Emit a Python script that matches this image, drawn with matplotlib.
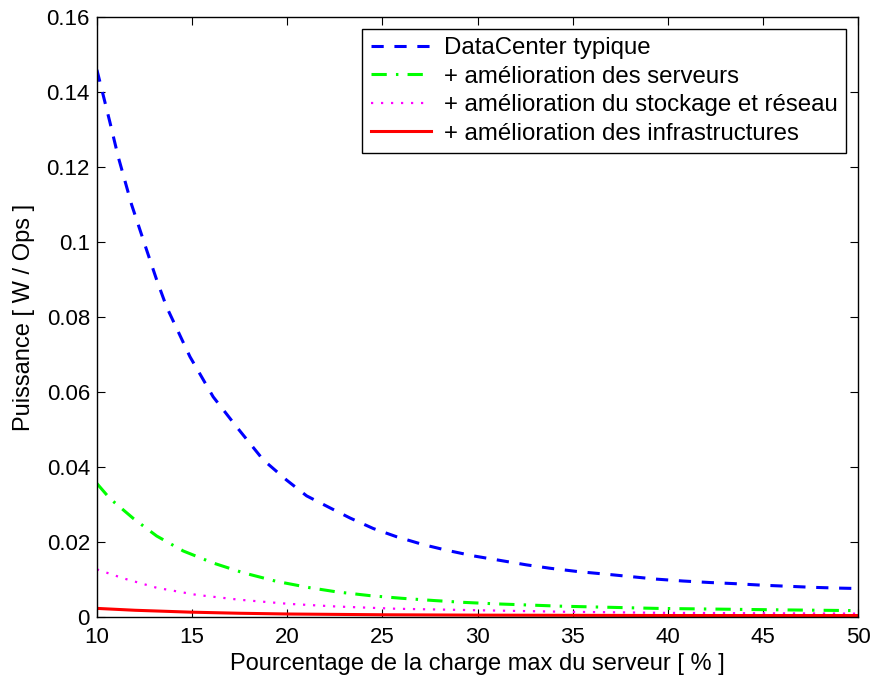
import numpy as np
import matplotlib
matplotlib.use('Agg')
import matplotlib.pyplot as plt

plt.rcParams['font.family'] = ['Liberation Sans', 'DejaVu Sans']

# values
x_blue = [10, 10.68, 11.12, 11.82, 12.61, 13.14, 13.66, 14.89, 16.11, 17.34, 18.74, 19.97,
          21.02, 22.25, 23.3, 24.52, 25.75, 27.15, 28.38, 29.78, 31.18, 32.58, 33.81, 35.3,
          36.8, 38.0, 39.4, 40.8, 42.2, 43.5, 44.9, 46.3, 47.7, 49.05, 50]
y_blue = [0.1459, 0.132, 0.1227, 0.110, 0.0979, 0.0899, 0.0827, 0.0694, 0.0587, 0.0507, 0.0419,
          0.0365, 0.0323, 0.0291, 0.0264, 0.0236, 0.0214, 0.0193, 0.0178, 0.0163, 0.0151, 0.0139,
          0.0130, 0.0121, 0.0114, 0.0108, 0.0101, 0.0096, 0.0092, 0.0089, 0.0085, 0.0082, 0.0079,
          0.0077, 0.0076]

x_green = [10, 10.68, 11.91, 13.14, 14.54, 16.11, 17.69, 19.44, 21.2, 22.6, 24.35, 26.0, 27.7,
           29.3, 31.0, 32.7, 34.3, 36.0, 39.4, 42.7, 46.1, 50]
y_green = [0.0356, 0.0316, 0.0263, 0.0216, 0.0176, 0.0144, 0.0118, 0.0095, 0.0078, 0.0067,
           0.0057, 0.0050, 0.0044, 0.0039, 0.0035, 0.0032, 0.0029, 0.0027, 0.0023, 0.0021,
           0.0019, 0.0017]

x_mag = [10, 11.4, 13.14, 15.24, 17.5, 20.1, 22.6, 25.75, 30.1, 34.5, 40, 45, 50]
y_mag = [0.0127, 0.0103, 0.0078, 0.0059, 0.0046, 0.0035, 0.0028, 0.0022, 0.0018, 0.0014,
         0.0011, 0.0010, 0.0009]

x_red = [10, 12, 14.9, 17.5, 20.1, 25, 30, 40, 50]
y_red = [0.0023, 0.0018, 0.0013, 0.0010, 0.0008, 0.0006, 0.0005, 0.0004, 0.0004]

labels = ['DataCenter typique', '+ amélioration des serveurs',
          '+ amélioration du stockage et réseau', '+ amélioration des infrastructures']

fig = plt.figure(figsize=(8.73, 6.77), dpi=100)
ax = fig.add_axes([0.111, 0.0886, 0.872, 0.8864])

ax.plot(x_blue, y_blue, color='#0000ff', lw=2.2, dashes=(4, 3.5), label=labels[0])
ax.plot(x_green, y_green, color='#00ff00', lw=2.2, dashes=(5, 3, 0.8, 3), label=labels[1])
ax.plot(x_mag, y_mag, color='#ff00ff', lw=1.6, dashes=(1, 3.5), label=labels[2])
ax.plot(x_red, y_red, color='#ff0000', lw=2.2, label=labels[3])

ax.set_xlim(10, 50)
ax.set_ylim(0, 0.16)
ax.set_xticks(np.arange(10, 51, 5))
yt = np.arange(0, 0.161, 0.02)
ax.set_yticks(yt)
ax.set_yticklabels(['0'] + ['%g' % v for v in yt[1:]])
ax.tick_params(direction='in', top=True, right=True, labelsize=16, length=6)
ax.tick_params(axis='x', pad=7)
ax.tick_params(axis='y', pad=5)
for s in ax.spines.values():
    s.set_linewidth(1.0)

ax.set_xlabel('Pourcentage de la charge max du serveur [ % ]', fontsize=17, labelpad=4)
ax.set_ylabel('Puissance [ W / Ops ]', fontsize=17, labelpad=8)

leg = ax.legend(loc='upper right', fontsize=17.3, fancybox=False, framealpha=1,
                edgecolor='black', borderaxespad=0.5, handlelength=2.5, handletextpad=0.55,
                labelspacing=0.27, borderpad=0.35)
leg.get_frame().set_linewidth(1.0)

fig.savefig('out.png', dpi=100)
